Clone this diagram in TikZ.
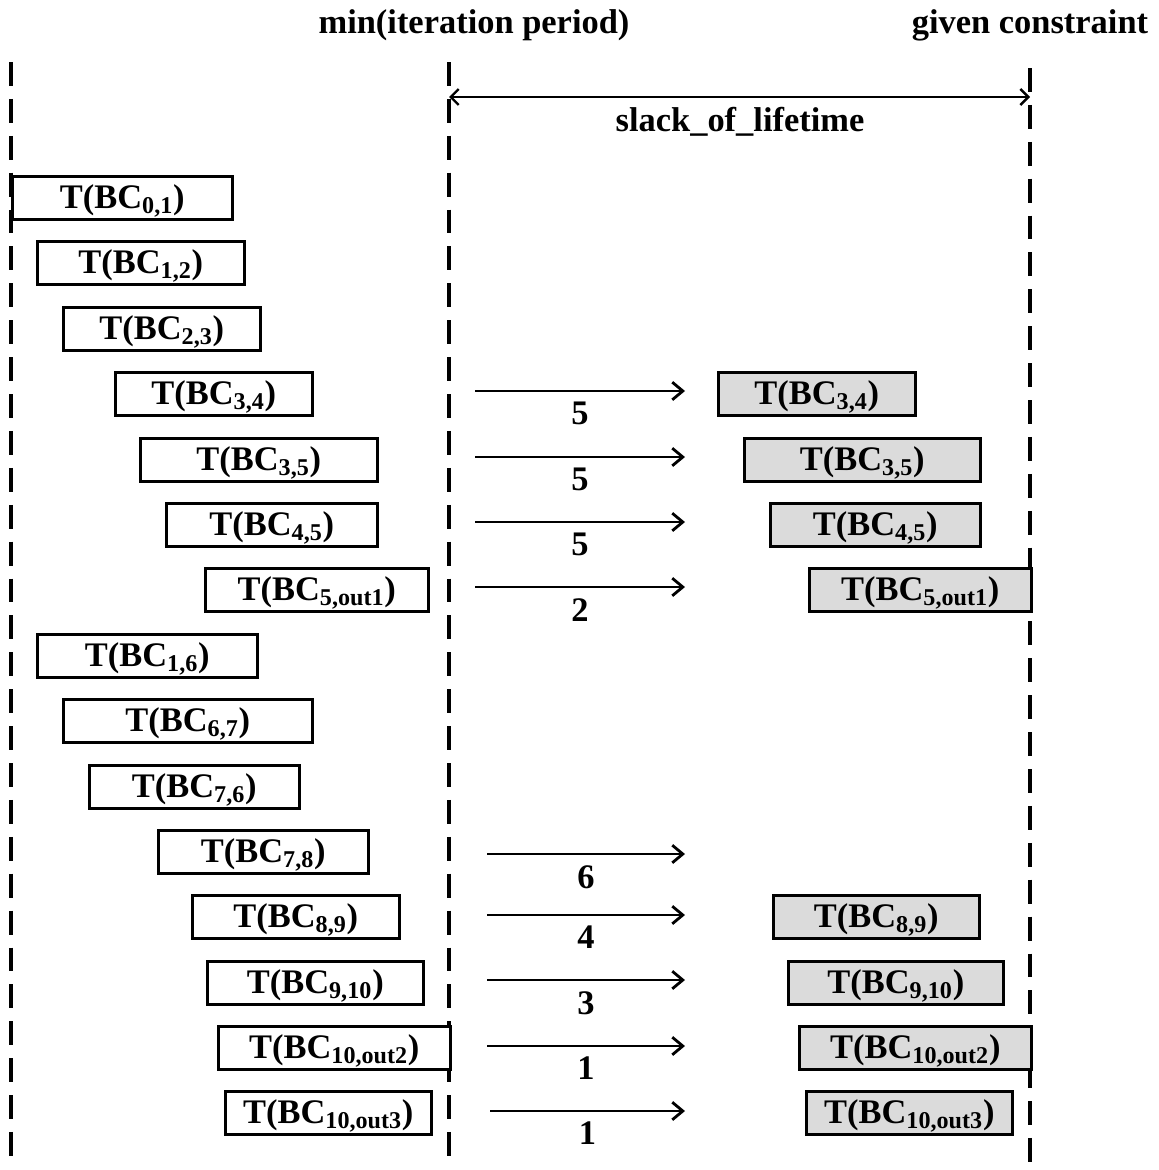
\documentclass[tikz,border=0pt]{standalone}
\usepackage{fontspec}
\setmainfont{Liberation Serif}
\usepackage{tikz}
\usetikzlibrary{arrows.meta,patterns}
\tikzset{
  font=\fontsize{19.6}{23}\selectfont\bfseries,
  guide/.style={draw=black, line width=2pt, dash pattern=on 13.6pt off 7.4pt},
  task/.style={draw=black, line width=1.5pt, fill=white, inner sep=0pt,
    minimum height=24.4pt, text height=14.7pt, text depth=2.6pt, anchor=north west},
  shifted/.style={task, preaction={fill=gray!28}, pattern=north east lines,
    pattern color=gray!75, fill=none},
  move/.style={-{Straight Barb[length=6pt,width=10pt,line width=1.6pt]}, line width=1.6pt},
  span/.style={{Straight Barb[length=4.5pt,width=9pt]}-{Straight Barb[length=4.5pt,width=9pt]}, line width=1.4pt},
  amount/.style={inner sep=0pt, below=5.6pt}
}

\begin{document}
\begin{tikzpicture}[x=0.02cm,y=-0.02cm]
  \useasboundingbox (0,0) rectangle (1159,1170);

  % time limits
  \node (minip) at (474,25) {min(iteration period)};
  \node (given) at (1030,25) {given constraint};
  \draw[guide] (11,62) -- (11,1166);
  \draw[guide] (449,62) -- (449,1166);
  \draw[guide] (1030,68) -- (1030,1166);

  \coordinate (slackl) at (449,97);
  \coordinate (slackr) at (1030,97);
  \draw[span] (slackl) -- (slackr);
  \node (slack) at (740,122) {slack\_of\_lifetime};

  % lifetimes inside the minimum iteration period
  \foreach \n/\l/\r/\t/\s in {a01/11/231/175/{0,1}, a12/36/243/240/{1,2},
      a23/62/259/306/{2,3}, a34/114/311/371/{3,4}, a35/139/376/437/{3,5},
      a45/165/376/502/{4,5}, a5o1/204/427/567/{5,out1}, a16/36/256/633/{1,6},
      a67/62/311/698/{6,7}, a76/88/298/764/{7,6}, a78/157/367/829/{7,8},
      a89/191/398/894/{8,9}, a910/206/422/960/{9,10},
      a10o2/217/449/1025/{10,out2}, a10o3/224/430/1090/{10,out3}}
    \node[task, minimum width={(\r-\l)*0.02cm}] (\n) at (\l,\t) {T(BC\textsubscript{\s})};

  % lifetimes moved into the slack
  \foreach \n/\l/\r/\t/\s in {b34/717/914/371/{3,4}, b35/743/979/437/{3,5},
      b45/769/979/502/{4,5}, b5o1/808/1030/567/{5,out1}, b89/772/978/894/{8,9},
      b910/787/1002/960/{9,10}, b10o2/798/1030/1025/{10,out2},
      b10o3/805/1011/1090/{10,out3}}
    \node[shifted, minimum width={(\r-\l)*0.02cm}] (\n) at (\l,\t) {T(BC\textsubscript{\s})};

  % shift amounts
  \foreach \n/\x/\y/\k in {34/475/391/5, 35/475/457/5, 45/475/522/5,
      5o1/475/587/2, 78/487/854/6, 89/487/915/4, 910/487/980/3,
      10o2/487/1046/1, 10o3/490/1111/1} {
    \coordinate (s\n) at (\x,\y);
    \coordinate (e\n) at (685,\y);
    \draw[move] (s\n) -- node[amount] {\k} (e\n);
  }
\end{tikzpicture}
\end{document}
